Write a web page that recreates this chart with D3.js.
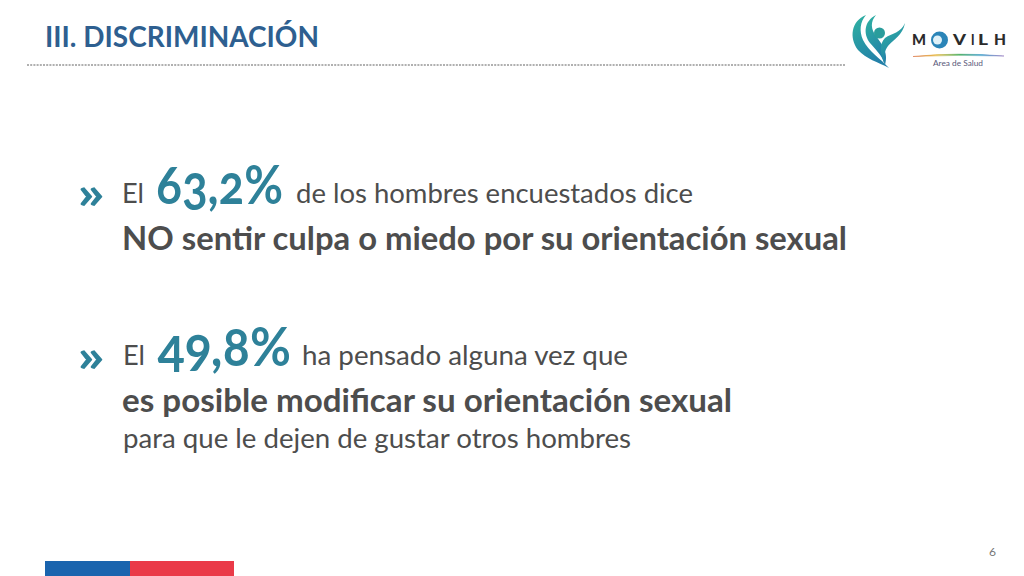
<!DOCTYPE html>
<html><head><meta charset="utf-8">
<script src="https://cdn.jsdelivr.net/npm/d3@7"></script>
<style>html,body{margin:0;padding:0;background:#fff;overflow:hidden}svg{display:block}text{font-family:Lato,"Open Sans",sans-serif}.num{font-variant-numeric:oldstyle-nums;font-feature-settings:"onum" 1,"pnum" 1}</style>
</head><body><svg id="c" width="1024" height="576"></svg>
<script>
const title = "III. DISCRIMINACIÓN";
const percents = ["63,2%", "49,8%"];
const pageNumber = "6";
const BLUE="#2e5f90", TEAL="#2e8199", GREY="#4d4d4d";
const lines = [
 {t:"»",x:77,y:209,s:46,w:700,c:TEAL,l:28},
 {t:"El",x:122,y:203,s:26,w:400,c:GREY,l:22},
 {t:percents[0],x:156,y:204,s:54,w:700,c:TEAL,l:127,k:"num"},
 {t:"de los hombres encuestados dice",x:296,y:203,s:26,w:400,c:GREY,l:397},
 {t:"NO sentir culpa o miedo por su orientación sexual",x:122,y:250,s:32,w:700,c:GREY,l:725},
 {t:"»",x:77,y:372,s:46,w:700,c:TEAL,l:28},
 {t:"El",x:123,y:365,s:26,w:400,c:GREY,l:22},
 {t:percents[1],x:157,y:366,s:54,w:700,c:TEAL,l:134,k:"num"},
 {t:"ha pensado alguna vez que",x:302,y:365,s:26,w:400,c:GREY,l:326},
 {t:"es posible modificar su orientación sexual",x:122,y:412,s:32,w:700,c:GREY,l:610},
 {t:"para que le dejen de gustar otros hombres",x:123,y:448,s:26,w:400,c:GREY,l:508},
 {t:title,x:45,y:47,s:29,w:700,c:BLUE,l:274},
 {t:pageNumber,x:989,y:556,s:12,w:400,c:"#777",l:7},
 {t:"Area de Salud",x:933,y:66,s:8,w:400,c:"#5a5a7a",l:50}
];
const svg=d3.select("#c");
svg.append("line").attr("x1",27).attr("x2",846).attr("y1",65).attr("y2",65)
  .attr("stroke","#b0b0b0").attr("stroke-width",2).attr("stroke-dasharray","2 1.2");
svg.selectAll("text.t").data(lines).join("text").attr("class",d=>"t "+(d.k||""))
  .attr("x",d=>d.x).attr("y",d=>d.y).attr("font-size",d=>d.s).attr("font-weight",d=>d.w)
  .attr("fill",d=>d.c).attr("textLength",d=>d.l).attr("lengthAdjust","spacingAndGlyphs").text(d=>d.t);
// footer band
svg.append("rect").attr("x",45).attr("y",561).attr("width",85).attr("height",15).attr("fill","#1a64ae");
svg.append("rect").attr("x",130).attr("y",561).attr("width",104).attr("height",15).attr("fill","#ea3a48");
// logo
const g=svg.append("g");
const defs=svg.append("defs");
const tealGrad=defs.append("linearGradient").attr("id","lg").attr("x1",0).attr("y1",0).attr("x2",0.4).attr("y2",1);
tealGrad.append("stop").attr("offset",0).attr("stop-color","#2fb3a2");
tealGrad.append("stop").attr("offset",1).attr("stop-color","#2380a8");
[
 "M866,15 C851,21 849,38 858,50 C866,59 878,62 889,68 C880,58 869,52 863,40 C859,31 860,22 866,15Z",
 "M876,15 C864,21 863,34 870,43 C876,50 882,55 885,65 C889,52 881,43 876,36 C871,29 870,22 876,15Z",
 "M905,23 C903,35 893,40 888,46 C884,51 884,58 885,65 C880,54 879,44 885,38 C892,33 901,33 905,23Z"
].forEach(p=>g.append("path").attr("d",p).attr("fill","url(#lg)"));
g.append("circle").attr("cx",879.5).attr("cy",33).attr("r",5.5).attr("fill","#2a9d9c");
// wordmark
const word=["M","V","I","L","H"];
const wordX=[912,953,971,978,994];
const wordW=[14,13,3.5,10,12];
g.selectAll("text.w").data(word).join("text").attr("class","w").attr("x",(d,i)=>wordX[i]).attr("y",45)
 .attr("font-size",15.5).attr("font-weight",900).attr("fill","#2b2b2b")
 .attr("textLength",(d,i)=>wordW[i]).attr("lengthAdjust","spacingAndGlyphs").text(d=>d);
g.append("circle").attr("cx",939.5).attr("cy",40).attr("r",8.5).attr("fill","#2b85b8");
g.append("circle").attr("cx",937.5).attr("cy",40).attr("r",4.5).attr("fill","#dff1f8");
const rb=defs.append("linearGradient").attr("id","rb");
["#d86a3a","#e6b53a","#5ab56a","#3a9ac8","#8a6ab8"].forEach((c,i)=>rb.append("stop").attr("offset",i/4).attr("stop-color",c));
g.append("path").attr("d","M913,56.5 Q958,52 1004,56 Q958,54.5 913,56.5Z").attr("fill","url(#rb)").attr("stroke","url(#rb)").attr("stroke-width",.5);
</script></body></html>
